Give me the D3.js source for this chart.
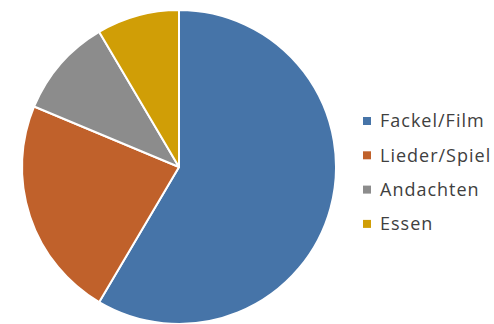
<!DOCTYPE html>
<html>
<head>
<meta charset="utf-8">
<script src="https://cdn.jsdelivr.net/npm/d3@7"></script>
<style>
  html, body { margin: 0; padding: 0; background: #fff; }
</style>
</head>
<body>
<div id="chart"></div>
<script>
(function(){
  // Categories and their shares (percent)
  const categories = ["Fackel/Film", "Lieder/Spiel", "Andachten", "Essen"];
  const values = [58.5, 22.8, 10.2, 8.5];
  const colors = ["#4674A8", "#C0612B", "#8C8C8C", "#D09E06"];

  const data = categories.map((c, i) => ({ name: c, value: values[i] }));

  const width = 494;
  const height = 324;
  const radius = 157;
  const cx = 179, cy = 167;

  const svg = d3.select("#chart")
    .append("svg")
    .attr("width", width)
    .attr("height", height);

  const color = d3.scaleOrdinal()
    .domain(categories)
    .range(colors);

  const pie = d3.pie()
    .value(d => d.value)
    .sort(null);

  const arc = d3.arc()
    .innerRadius(0)
    .outerRadius(radius);

  // Pie slices
  svg.append("g")
    .attr("transform", `translate(${cx},${cy})`)
    .selectAll("path")
    .data(pie(data))
    .enter()
    .append("path")
    .attr("d", arc)
    .attr("fill", d => color(d.data.name))
    .attr("stroke", "#fff")
    .attr("stroke-width", 2)
    .attr("stroke-linejoin", "round");

  // Legend
  const legend = svg.append("g")
    .attr("transform", "translate(363,121)");

  const rows = legend.selectAll("g")
    .data(categories)
    .enter()
    .append("g")
    .attr("transform", (d, i) => `translate(0,${i * 34.3})`);

  rows.append("rect")
    .attr("x", 0)
    .attr("y", -4)
    .attr("width", 8)
    .attr("height", 8)
    .attr("fill", d => color(d));

  rows.append("text")
    .attr("x", 17)
    .attr("y", 0)
    .attr("dy", "0.35em")
    .style("font-family", "'Open Sans', sans-serif")
    .style("font-size", "18px")
    .style("letter-spacing", "1px")
    .style("fill", "#404040")
    .text(d => d);
})();
</script>
</body>
</html>
